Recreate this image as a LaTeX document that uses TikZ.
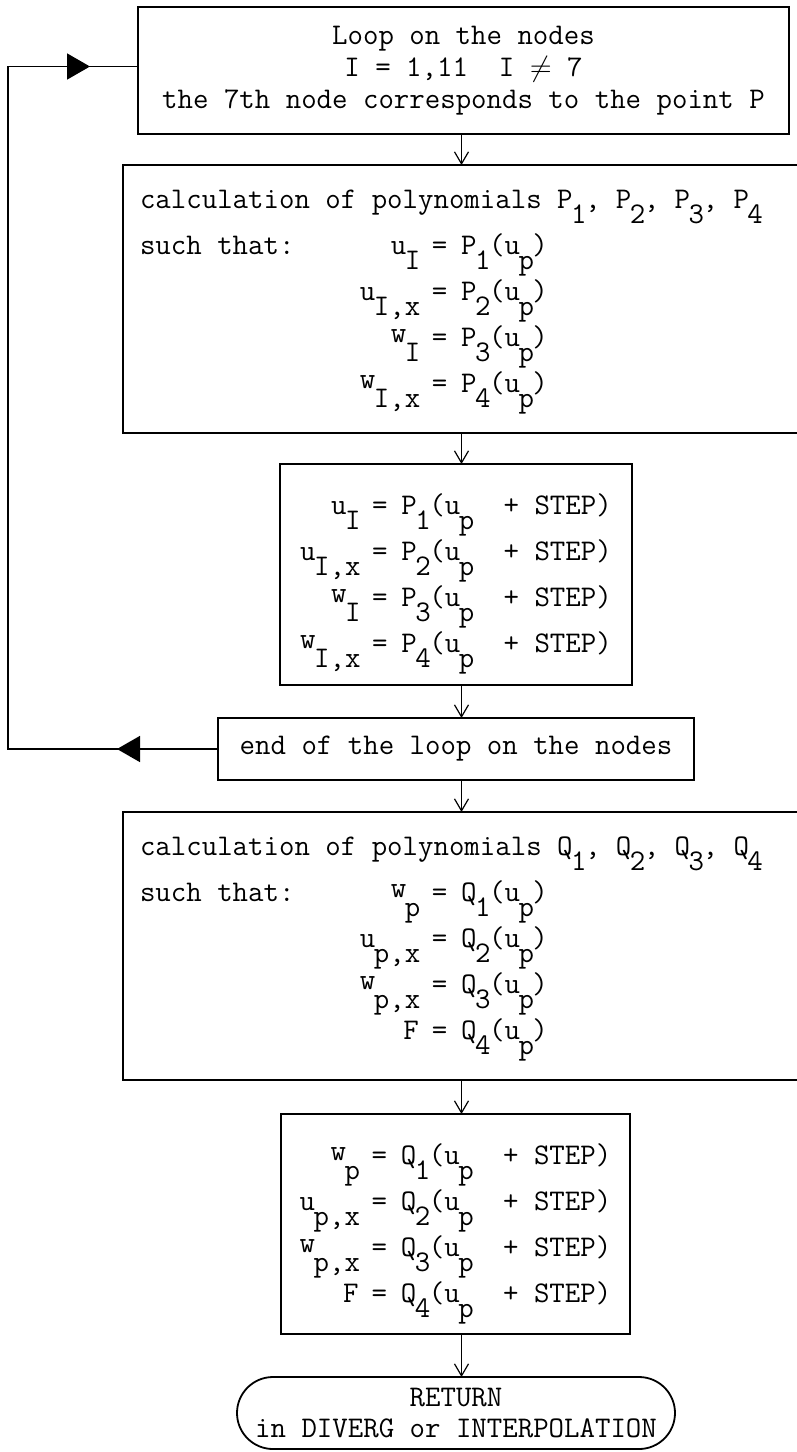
\documentclass[tikz,border=0pt]{standalone}
\usepackage{tikz}
\usetikzlibrary{arrows.meta, positioning, shapes.misc}
\newcommand{\lowsub}[1]{\kern-0.75pt\raisebox{-0.5em}[0pt][0pt]{#1}\kern-0.75pt}
\newcommand{\hiw}{\raisebox{2pt}{w}}
\newcommand{\eqsign}{\hspace{6.5pt}=\hspace{7pt}}
\tikzset{
  headbox/.style={
    draw, line width=0.9pt, align=center, inner sep=0pt, outer sep=0pt,
    font=\ttfamily\fontsize{15}{16}\selectfont
  },
  procbox/.style={
    draw, line width=0.9pt, inner xsep=8.5pt, inner ysep=0pt, outer sep=0pt,
    minimum height=#1, font=\ttfamily\fontsize{15}{23}\selectfont
  },
  termbox/.style={
    draw, rounded rectangle, line width=0.9pt, align=center, inner sep=0pt, outer sep=0pt,
    font=\ttfamily\fontsize{15}{15.5}\selectfont
  },
  flow/.style={-{Straight Barb[length=6pt,width=7pt]}, line width=0.6pt},
  loopline/.style={line width=0.8pt},
  looptip/.style={-{Triangle[length=11.5pt,width=13pt]}, line width=0.8pt}
}
\begin{document}
\begin{tikzpicture}
  \useasboundingbox (0,0) rectangle (398.5pt,-726pt);
  \node[headbox, minimum width=325.5pt, minimum height=63.5pt] (loop) at (231.75pt,-35.25pt) {
    Loop on the nodes\\
    I = 1,11~~I $\neq$ 7\\
    the 7th node corresponds to the point P
  };
  \node[procbox=134pt, minimum width=338.5pt, below=15.5pt of loop, xshift=-1pt] (calcP) {\makebox[321.5pt][l]{%
    \begin{tabular}{@{}l@{}r@{\eqsign}l@{}}
      \multicolumn{3}{@{}l@{}}{calculation of polynomials P\lowsub{1}, P\lowsub{2}, P\lowsub{3}, P\lowsub{4}}\\
      \makebox[110pt][l]{such that:} & u\lowsub{I} & P\lowsub{1}(u\lowsub{p})\\
                 & u\lowsub{I,x} & P\lowsub{2}(u\lowsub{p})\\
                 & \hiw\lowsub{I} & P\lowsub{3}(u\lowsub{p})\\
                 & \hiw\lowsub{I,x} & P\lowsub{4}(u\lowsub{p})\\[8pt]
    \end{tabular}}
  };
  \node[procbox=110.5pt, minimum width=176pt, below=15.5pt of calcP, xshift=-2.75pt] (stepP) {
    \begin{tabular}{@{}r@{\eqsign}l@{}}
      u\lowsub{I} & P\lowsub{1}(u\lowsub{p}~~+ STEP)\\
      u\lowsub{I,x} & P\lowsub{2}(u\lowsub{p}~~+ STEP)\\
      \hiw\lowsub{I} & P\lowsub{3}(u\lowsub{p}~~+ STEP)\\
      \hiw\lowsub{I,x} & P\lowsub{4}(u\lowsub{p}~~+ STEP)
    \end{tabular}
  };
  \node[procbox=31pt, minimum width=238pt, below=16.5pt of stepP] (endloop) {end of the loop on the nodes};
  \node[procbox=134pt, minimum width=338.5pt, below=16pt of endloop, xshift=2.75pt] (calcQ) {\makebox[321.5pt][l]{%
    \begin{tabular}{@{}l@{}r@{\eqsign}l@{}}
      \multicolumn{3}{@{}l@{}}{calculation of polynomials Q\lowsub{1}, Q\lowsub{2}, Q\lowsub{3}, Q\lowsub{4}}\\
      \makebox[110pt][l]{such that:} & \hiw\lowsub{p} & Q\lowsub{1}(u\lowsub{p})\\
                 & u\lowsub{p,x} & Q\lowsub{2}(u\lowsub{p})\\
                 & \hiw\lowsub{p,x} & Q\lowsub{3}(u\lowsub{p})\\
                 & F & Q\lowsub{4}(u\lowsub{p})\\[8pt]
    \end{tabular}}
  };
  \node[procbox=110pt, minimum width=174.5pt, below=17pt of calcQ, xshift=-3pt] (stepQ) {
    \begin{tabular}{@{}r@{\eqsign}l@{}}
      \hiw\lowsub{p} & Q\lowsub{1}(u\lowsub{p}~~+ STEP)\\
      u\lowsub{p,x} & Q\lowsub{2}(u\lowsub{p}~~+ STEP)\\
      \hiw\lowsub{p,x} & Q\lowsub{3}(u\lowsub{p}~~+ STEP)\\
      F & Q\lowsub{4}(u\lowsub{p}~~+ STEP)
    \end{tabular}
  };
  \node[termbox, minimum width=219pt, minimum height=36pt, below=21.5pt of stepQ, xshift=0.25pt] (ret) {
    RETURN\\
    in DIVERG or INTERPOLATION
  };
  \draw[flow] (loop.south -| calcP.south) -- (calcP.north);
  \draw[flow] (calcP.south) -- (stepP.north -| calcP.south);
  \draw[flow] (stepP.south -| calcP.south) -- (endloop.north -| calcP.south);
  \draw[flow] (endloop.south -| calcP.south) -- (calcQ.north -| calcP.south);
  \draw[flow] (calcQ.south -| calcP.south) -- (stepQ.north -| calcP.south);
  \draw[flow] (stepQ.south -| calcP.south) -- (ret.north -| calcP.south);
  \draw[loopline] (endloop.west) -- ++(-105pt,0) coordinate (loopcorner) |- ([yshift=2pt]loop.west);
  \draw[looptip] (endloop.west) -- ++(-50.5pt,0);
  \draw[looptip] ([yshift=2pt]loopcorner |- loop.west) -- ++(41pt,0);
\end{tikzpicture}
\end{document}
